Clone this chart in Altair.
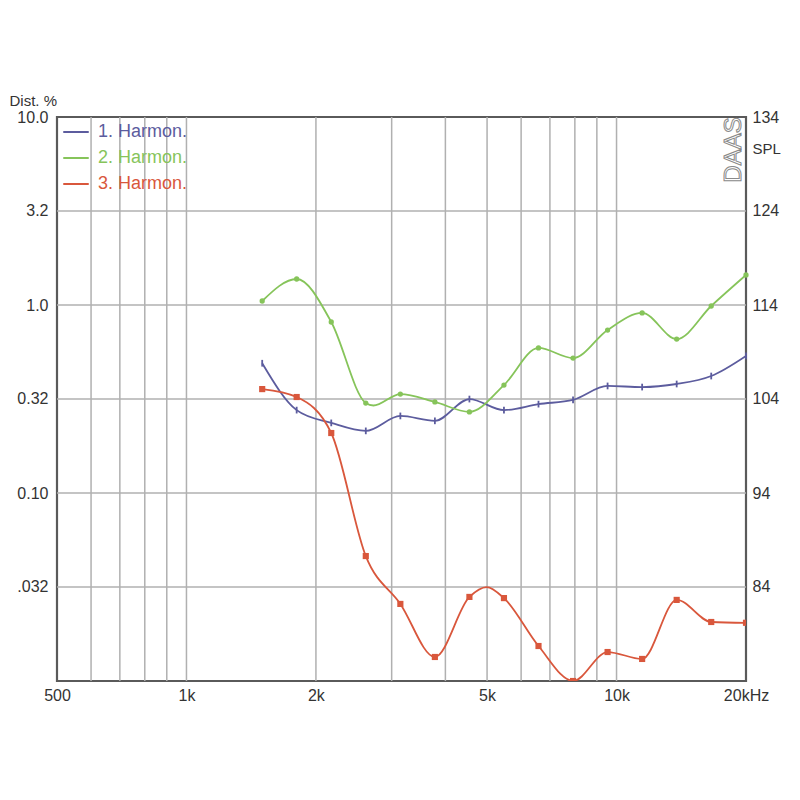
import altair as alt
import pandas as pd

series_names = ["1. Harmon.", "2. Harmon.", "3. Harmon."]
series_colors = ["#5c5c9e", "#86c45a", "#d9573c"]

# marker frequencies (Hz)
freqs = [1500, 1804, 2171, 2612, 3143, 3781, 4549, 5473, 6585, 7923, 9532, 11469, 13799, 16602, 20000]
h1 = [0.49, 0.276, 0.236, 0.214, 0.257, 0.242, 0.316, 0.276, 0.297, 0.313, 0.371, 0.366, 0.380, 0.419, 0.536]
h2 = [1.05, 1.375, 0.812, 0.301, 0.336, 0.305, 0.270, 0.375, 0.591, 0.522, 0.736, 0.907, 0.659, 0.988, 1.444]
h3 = [0.357, 0.324, 0.2085, 0.0462, 0.0257, 0.01342, 0.0280, 0.0276, 0.01535, 0.0100, 0.01426, 0.0131, 0.0270, 0.0206, 0.0204]
# extra curve points (no marker)
h2_extra_f = [2720]
h2_extra_v = [0.292]
h3_extra_f = [4990]
h3_extra_v = [0.0316]

x_grid = [600, 700, 800, 900, 1000, 2000, 3000, 4000, 5000, 6000, 7000, 8000, 9000, 10000]
y_grid = [3.1623, 1.0, 0.31623, 0.1, 0.031623]
x_tick_vals = [500, 1000, 2000, 5000, 10000, 20000]
x_tick_text = ["500", "1k", "2k", "5k", "10k", "20kHz"]
y_tick_vals = [10.0, 3.1623, 1.0, 0.31623, 0.1, 0.031623]
y_tick_text = ["10.0", "3.2", "1.0", "0.32", "0.10", ".032"]
spl_text = ["134", "124", "114", "104", "94", "84"]

FONT = "Liberation Sans"
W, H = 689, 564
LBL = 16

rows = []
for name, vals in zip(series_names, [h1, h2, h3]):
    for f, v in zip(freqs, vals):
        rows.append({"series": name, "f": f, "v": v, "marker": True})
for f, v in zip(h2_extra_f, h2_extra_v):
    rows.append({"series": series_names[1], "f": f, "v": v, "marker": False})
for f, v in zip(h3_extra_f, h3_extra_v):
    rows.append({"series": series_names[2], "f": f, "v": v, "marker": False})
df = pd.DataFrame(rows).sort_values(["series", "f"])


def label_expr(vals, texts):
    expr = "''"
    for v, t in reversed(list(zip(vals, texts))):
        expr = f"(abs(datum.value - {v}) < {v * 0.02}) ? '{t}' : " + expr
    return expr


xscale = alt.Scale(type="log", domain=[500, 20000], nice=False)
yscale = alt.Scale(type="log", domain=[0.01, 10], nice=False, zero=False)

xaxis = alt.Axis(values=x_tick_vals, labelExpr=label_expr(x_tick_vals, x_tick_text),
                 grid=False, ticks=False, domain=False, title=None, labelFlush=False,
                 labelOverlap=False, labelFont=FONT, labelFontSize=LBL, labelColor="#333",
                 labelPadding=6)
yaxis_left = alt.Axis(values=y_tick_vals, labelExpr=label_expr(y_tick_vals, y_tick_text),
                      grid=False, ticks=False, domain=False, labelFlush=False, labelOverlap=False,
                      labelFont=FONT, labelFontSize=LBL, labelColor="#333", labelPadding=9,
                      title="Dist. %", titleAngle=0, titleAlign="left", titleBaseline="middle",
                      titleX=-48, titleY=-17, titleFont=FONT, titleFontSize=15,
                      titleFontWeight="normal", titleColor="#333")
yaxis_right = alt.Axis(orient="right", values=y_tick_vals, labelExpr=label_expr(y_tick_vals, spl_text),
                       grid=False, ticks=False, domain=False, labelFlush=False, labelOverlap=False,
                       labelFont=FONT, labelFontSize=LBL, labelColor="#333", labelPadding=6,
                       title="SPL", titleAngle=0, titleAlign="left", titleBaseline="middle",
                       titleX=6, titleY=31, titleFont=FONT, titleFontSize=15,
                       titleFontWeight="normal", titleColor="#333")

grid_color = "#b0b0b0"
vgrid = alt.Chart(pd.DataFrame({"f": x_grid})).mark_rule(color=grid_color, strokeWidth=1.5).encode(
    x=alt.X("f:Q", scale=xscale, axis=xaxis))
hgrid = alt.Chart(pd.DataFrame({"v": y_grid})).mark_rule(color=grid_color, strokeWidth=1.5).encode(
    y=alt.Y("v:Q", scale=yscale, axis=yaxis_left))

label_color_expr = (f"datum.label == '{series_names[0]}' ? '{series_colors[0]}' : "
                    f"datum.label == '{series_names[1]}' ? '{series_colors[1]}' : '{series_colors[2]}'")

lines = alt.Chart(df).mark_line(interpolate="monotone", strokeWidth=1.8, clip=True).encode(
    x=alt.X("f:Q", scale=xscale),
    y=alt.Y("v:Q", scale=yscale),
    color=alt.Color("series:N", scale=alt.Scale(domain=series_names, range=series_colors),
                    legend=alt.Legend(title=None, orient="none", legendX=5, legendY=1,
                                      symbolType="stroke", symbolSize=650, symbolStrokeWidth=2,
                                      labelFont=FONT, labelFontSize=18, labelOffset=8,
                                      rowPadding=3, labelColor={"expr": label_color_expr})),
)

mk = df[df["marker"]]
m1 = alt.Chart(mk[mk["series"] == series_names[0]]).mark_point(
    shape="M0,-1L0,1", filled=False, size=45, strokeWidth=1.8, color=series_colors[0], opacity=1).encode(
    x=alt.X("f:Q", scale=xscale), y=alt.Y("v:Q", scale=yscale))
m2 = alt.Chart(mk[mk["series"] == series_names[1]]).mark_point(
    shape="circle", filled=True, size=28, color=series_colors[1], opacity=1).encode(
    x=alt.X("f:Q", scale=xscale), y=alt.Y("v:Q", scale=yscale))
m3 = alt.Chart(mk[mk["series"] == series_names[2]]).mark_point(
    shape="square", filled=True, size=38, color=series_colors[2], opacity=1, clip=True).encode(
    x=alt.X("f:Q", scale=xscale), y=alt.Y("v:Q", scale=yscale))

daas = alt.Chart(pd.DataFrame({"t": ["DAAS"]})).mark_text(
    angle=270, font=FONT, fontSize=24, fill="#ffffff", stroke="#8a8a8a", strokeWidth=1,
    align="center", baseline="middle").encode(
    text="t:N", x=alt.value(W - 12), y=alt.value(33))

right = alt.Chart(pd.DataFrame({"v": y_grid})).mark_rule(opacity=0).encode(
    y=alt.Y("v:Q", scale=yscale, axis=yaxis_right))

main = alt.layer(vgrid, hgrid, lines, m1, m2, m3, daas)
chart = alt.layer(main, right).resolve_scale(y="independent").properties(
    width=W, height=H, autosize="none",
    padding={"left": 49, "top": 109, "right": 36, "bottom": 100},
).configure_view(stroke="#5a5a5a", strokeWidth=2.2)

chart.save("out.html", embed_options={"renderer": "svg", "actions": False})
